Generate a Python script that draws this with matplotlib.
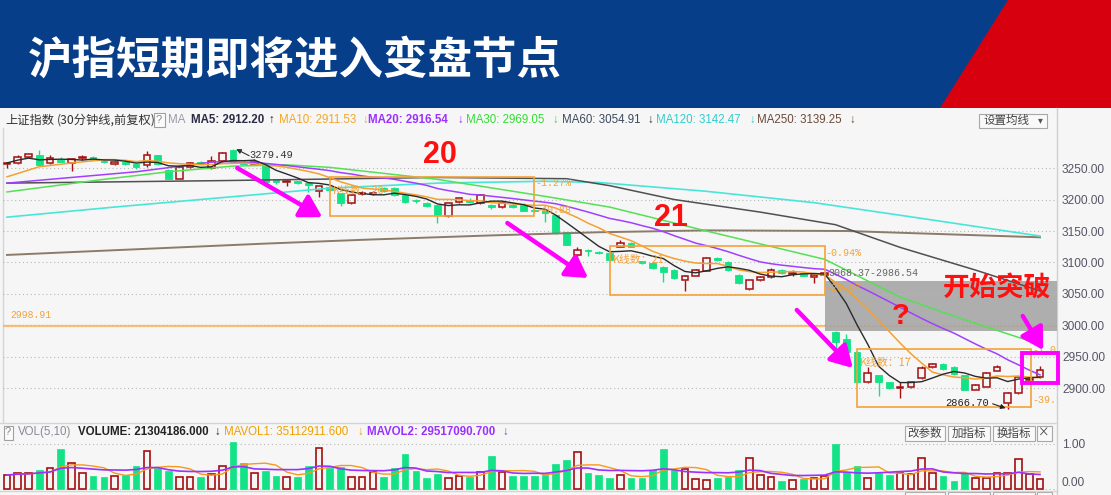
import numpy as np
import pandas as pd
import matplotlib
matplotlib.use("Agg")
import matplotlib.pyplot as plt
from matplotlib.patches import Rectangle, Polygon
from matplotlib.ticker import FormatStrFormatter

# ---------------- data ----------------
title = "沪指短期即将进入变盘节点"

opens = [3257, 3258, 3267, 3271, 3258, 3262, 3258, 3266, 3268, 3261,
         3256, 3259, 3256, 3255, 3270, 3247, 3233, 3252, 3260, 3250,
         3261, 3278, 3260, 3257, 3256, 3231, 3227, 3229, 3226, 3214,
         3220, 3210, 3194, 3208, 3209, 3218, 3218, 3207, 3200, 3194,
         3191, 3174, 3196, 3200, 3194, 3192, 3188, 3192, 3191, 3184,
         3182, 3175, 3148, 3112, 3120, 3117, 3115, 3125, 3131, 3102,
         3099, 3093, 3088, 3072, 3079, 3087, 3107, 3101, 3080, 3058,
         3072, 3077, 3088, 3082, 3083, 3077, 3080, 2990, 2979, 2958,
         2910, 2921, 2910, 2901, 2902, 2916, 2934, 2939, 2934, 2921,
         2898, 2903, 2928, 2877, 2893, 2913, 2918]
highs = [3260, 3270, 3273, 3279, 3270, 3268, 3266, 3271, 3269, 3262,
         3261, 3263, 3257, 3277, 3271, 3248, 3253, 3259, 3261, 3269,
         3275, 3279.49, 3262, 3265, 3258, 3233, 3231, 3230, 3228, 3222,
         3222, 3211, 3208, 3213, 3213, 3220, 3220, 3208, 3201, 3196,
         3192, 3195, 3203, 3202, 3208, 3193, 3196, 3196, 3194, 3185,
         3183, 3176, 3149, 3124, 3121, 3118, 3116, 3135, 3132, 3103,
         3100, 3094, 3089, 3080, 3089, 3108, 3109, 3102, 3081, 3073,
         3079, 3092, 3089, 3088, 3084, 3081, 3084, 2992, 2987, 2960,
         2934, 2922, 2911, 2910, 2911, 2935, 2941, 2941, 2935, 2922,
         2907, 2926, 2937, 2894, 2919, 2916, 2935]
lows = [3250, 3257, 3266, 3254, 3257, 3259, 3245, 3262, 3262, 3258,
        3254, 3255, 3249, 3251, 3255, 3232, 3232, 3250, 3255, 3249,
        3260, 3258, 3255, 3255, 3226, 3224, 3222, 3224, 3212, 3204,
        3213, 3190, 3193, 3207, 3207, 3212, 3205, 3194, 3195, 3188,
        3163, 3173, 3195, 3195, 3193, 3185, 3187, 3187, 3181, 3180,
        3165, 3146, 3127, 3108, 3110, 3114, 3103, 3124, 3124, 3098,
        3090, 3069, 3074, 3055, 3078, 3086, 3103, 3087, 3066, 3057,
        3071, 3076, 3082, 3078, 3078, 3068, 3079, 2958, 2957, 2908,
        2909, 2888, 2899, 2885, 2901, 2915, 2933, 2930, 2922, 2897,
        2897, 2902, 2927, 2866.70, 2892, 2912, 2917]
closes = [3258, 3267, 3272, 3255, 3266, 3260, 3265, 3267, 3263, 3259,
          3259, 3256, 3252, 3271, 3256, 3233, 3252, 3258, 3256, 3261,
          3274, 3260, 3257, 3260, 3227, 3228, 3230, 3226, 3223, 3221,
          3215, 3194, 3207, 3211, 3211, 3214, 3207, 3196, 3197, 3190,
          3175, 3194, 3202, 3196, 3207, 3188, 3194, 3188, 3182, 3181,
          3178, 3147, 3128, 3120, 3118, 3115, 3104, 3131, 3125, 3099,
          3091, 3085, 3075, 3079, 3088, 3107, 3104, 3088, 3067, 3072,
          3077, 3088, 3083, 3083, 3079, 3080, 3083, 2974, 2958, 2910,
          2925, 2910, 2900, 2902, 2910, 2932, 2939, 2931, 2923, 2898,
          2905, 2925, 2934, 2893, 2918, 2915, 2930]
# volume in units of 1e8
volumes = [0.31, 0.35, 0.35, 0.42, 0.46, 0.88, 0.57, 0.35, 0.29, 0.27,
           0.29, 0.31, 0.50, 0.85, 0.46, 0.39, 0.27, 0.27, 0.27, 0.33,
           0.52, 1.04, 0.57, 0.35, 0.39, 0.30, 0.27, 0.27, 0.50, 0.90,
           0.46, 0.48, 0.27, 0.27, 0.37, 0.27, 0.47, 0.77, 0.39, 0.25,
           0.34, 0.25, 0.30, 0.27, 0.37, 0.73, 0.37, 0.29, 0.29, 0.29,
           0.31, 0.55, 0.64, 0.83, 0.35, 0.31, 0.25, 0.31, 0.25, 0.25,
           0.42, 0.88, 0.42, 0.44, 0.22, 0.20, 0.25, 0.27, 0.42, 0.68,
           0.31, 0.27, 0.18, 0.20, 0.22, 0.24, 0.30, 0.99, 0.37, 0.50,
           0.25, 0.35, 0.31, 0.35, 0.33, 0.68, 0.35, 0.29, 0.18, 0.35,
           0.25, 0.25, 0.35, 0.35, 0.66, 0.33, 0.213]

# start of the short MAs (before a full window is available)
ma10_head_idx = [0, 3, 6]
ma10_head_val = [3236, 3252, 3258]
ma20_head_idx = [0, 6, 12]
ma20_head_val = [3226, 3235, 3244]

# long MAs: (bar index, value)
ma30_idx = [0, 9, 15, 21, 26, 30, 40, 50, 56, 65, 76, 83, 89, 96]
ma30_val = [3212, 3232, 3244, 3253, 3255, 3251, 3232, 3205, 3188, 3150, 3105, 3045, 3009, 2970]
ma60_idx = [0, 20, 40, 52, 56, 62, 70, 77, 83, 90, 96]
ma60_val = [3226, 3230, 3235, 3233, 3222, 3200, 3180, 3160, 3124, 3088, 3055]
ma120_idx = [0, 10, 20, 30, 40, 50, 55, 65, 75, 85, 96]
ma120_val = [3172, 3188, 3203, 3218, 3226, 3229, 3227, 3213, 3195, 3170, 3142]
ma250_idx = [0, 8, 16, 24, 33, 45, 55, 65, 78, 96]
ma250_val = [3112, 3118, 3124, 3130, 3136, 3143, 3148, 3151, 3150, 3140]

price_ticks = [2900, 2950, 3000, 3050, 3100, 3150, 3200, 3250]
vol_ticks = [0.0, 1.0]
ref_level = 2998.91

# counting boxes
box_counts = [20, 21, 17]
box_x0 = [30, 56, 79]
box_x1 = [49, 76, 95.2]
box_lo = [3173.8, 3048.4, 2870.6]
box_hi = [3235.7, 3126.2, 2962.7]
box_pct = ["-1.27%", "-0.94%", "-1.0"]
box_pct_at = [3226.0, 3115.0, 2961.0]
box_diff = ["-40.88", "-29.07", "-39.1"]
box_diff_at = [3183.3, 3059.5, 2881.7]

legend_items = [
    (168, "MA", "#9a9aa8", "normal"),
    (191, "MA5: 2912.20", "#2b2b45", "bold"),
    (268, "↑", "#222222", "normal"),
    (279, "MA10: 2911.53", "#f5a623", "normal"),
    (362, "↓", "#f5a623", "normal"),
    (368, "MA20: 2916.54", "#9b30ff", "bold"),
    (457, "↓", "#9b30ff", "normal"),
    (466, "MA30: 2969.05", "#33dd33", "normal"),
    (552, "↓", "#33dd33", "normal"),
    (562, "MA60: 3054.91", "#3d4a5c", "normal"),
    (647, "↓", "#333333", "normal"),
    (656, "MA120: 3142.47", "#33cccc", "normal"),
    (749, "↓", "#33cccc", "normal"),
    (757, "MA250: 3139.25", "#6b4a3a", "normal"),
    (849, "↓", "#6b4a3a", "normal"),
]
vol_legend = [
    (18, "VOL(5,10)", "#8a8a96", "normal"),
    (78, "VOLUME: 21304186.000", "#222222", "bold"),
    (214, "↓", "#222222", "normal"),
    (224, "MAVOL1: 35112911.600", "#f0a000", "normal"),
    (357, "↓", "#f0a000", "normal"),
    (367, "MAVOL2: 29517090.700", "#9b30ff", "bold"),
    (502, "↓", "#9b30ff", "normal"),
]

# ---------------- style ----------------
LAT = ["Liberation Sans", "Noto Sans CJK SC", "DejaVu Sans"]
CJK = ["Noto Sans CJK SC", "DejaVu Sans"]
MONO = ["Liberation Mono", "DejaVu Sans Mono"]
plt.rcParams["font.family"] = LAT

W, H = 1111, 495
BG = "#f6f6f6"
RED = "#a50f0f"
GREEN = "#12e387"
ORANGE = "#f3a23a"
MAG = "#ff00ff"

fig = plt.figure(figsize=(W / 100, H / 100), dpi=100)
fig.patch.set_facecolor(BG)

# background / header layer in pixel coordinates
bg = fig.add_axes([0, 0, 1, 1], zorder=0)
bg.set_xlim(0, W)
bg.set_ylim(H, 0)
bg.axis("off")
bg.add_patch(Rectangle((0, 0), W, 108, facecolor="#073e8a", edgecolor="none"))
bg.add_patch(Polygon([[1008, 0], [W, 0], [W, 108], [940, 108]], closed=True,
                     facecolor="#d7000f", edgecolor="none"))
bg.text(28, 61, title, color="white", fontsize=32, fontweight="bold", family=CJK,
        ha="left", va="center")

# frame lines
bg.plot([1057, 1057], [108, 495], color="#cfcfcf", lw=1)
bg.plot([3, 3], [128, 422], color="#d4d4d4", lw=1)
bg.plot([0, 1057], [422.5, 422.5], color="#d4d4d4", lw=1)
bg.plot([0, 1057], [490.5, 490.5], color="#d4d4d4", lw=1)

# legend row
ly = 120
bg.text(5, ly, "上证指数", color="#333333", fontsize=8.8, family=CJK, ha="left", va="center")
bg.text(57, ly, "(30分钟线,前复权)", color="#333333", fontsize=8.8, family=CJK, ha="left", va="center")
bg.add_patch(Rectangle((153.5, 112.5), 11, 14, facecolor="#fbfbfb", edgecolor="#a0a0a0", lw=0.8))
bg.text(159, ly, "?", color="#888888", fontsize=8, ha="center", va="center")
for x0, s, col, wt in legend_items:
    bg.text(x0, ly, s, color=col, fontsize=8.3, fontweight=wt, ha="left", va="center")
bg.add_patch(Rectangle((978.5, 113.5), 68, 14, facecolor="#f9f9f9", edgecolor="#a8a8a8", lw=0.8))
bg.text(984, ly, "设置均线", color="#444444", fontsize=8.3, family=CJK, ha="left", va="center")
bg.text(1040, ly, "▾", color="#555555", fontsize=7, family=["DejaVu Sans"], ha="center", va="center")

# volume legend row
vy = 432
bg.add_patch(Rectangle((3.5, 425.5), 9, 14, facecolor="#fbfbfb", edgecolor="#a0a0a0", lw=0.8))
bg.text(8, vy, "?", color="#888888", fontsize=8, ha="center", va="center")
for x0, s, col, wt in vol_legend:
    bg.text(x0, vy, s, color=col, fontsize=8.3, fontweight=wt, ha="left", va="center")
for bx, bw, s in [(904, 40, "改参数"), (947, 42, "加指标"), (992, 42, "换指标"), (1036, 15, "×")]:
    bg.add_patch(Rectangle((bx + 0.5, 425.5), bw, 15, facecolor="#f9f9f9", edgecolor="#a8a8a8", lw=0.8))
    bg.text(bx + bw / 2 + 0.5, 433, s, color="#444444", fontsize=8.3, family=CJK, ha="center", va="center")
    bg.add_patch(Rectangle((bx + 0.5, 491.5), bw, 12, facecolor="#f9f9f9", edgecolor="#a8a8a8", lw=0.8))

# ---------------- main price axes ----------------
n = len(closes)
x = np.arange(n)
o = np.array(opens, float)
h = np.array(highs, float)
l = np.array(lows, float)
c = np.array(closes, float)
v = np.array(volumes, float)
up = c >= o

X0, X1 = -0.372, 97.58
ax = fig.add_axes([3 / W, 1 - 421 / H, 1054 / W, 293 / H], zorder=2)
ax.set_facecolor("none")
ax.set_xlim(X0, X1)
ax.set_ylim(2848.4, 3313.5)
for sp in ax.spines.values():
    sp.set_visible(False)
ax.set_xticks([])
ax.yaxis.tick_right()
ax.set_yticks(price_ticks)
ax.yaxis.set_major_formatter(FormatStrFormatter("%.2f"))
ax.tick_params(axis="y", length=0, pad=3.6, labelsize=8.6, labelcolor="#555566")
ax.grid(True, axis="y", color="#b8b8b8", linestyle=(0, (1, 2.5)), lw=0.8, zorder=0)

# reference level and shaded zone
ax.axhline(ref_level, color="#f7c07a", lw=1.6, zorder=1)
ax.text(0.28, ref_level + 18, f"{ref_level:.2f}", color=ORANGE, fontsize=7, family=MONO,
        ha="left", va="center")
ax.add_patch(Rectangle((76.0, 2991.3), X1 - 76.0, 3070.6 - 2991.3, facecolor="#a4a4a4",
                       edgecolor="none", alpha=0.88, zorder=1.5))

# candles
blo = np.minimum(o, c)
bhi = np.maximum(o, c)
bh = np.maximum(bhi - blo, 0.7)
ax.vlines(x[up], bhi[up], h[up], color=RED, lw=1, zorder=3)
ax.vlines(x[up], l[up], blo[up], color=RED, lw=1, zorder=3)
ax.vlines(x[~up], l[~up], h[~up], color=GREEN, lw=1, zorder=3)
ax.bar(x[up], bh[up], bottom=blo[up], width=0.62, facecolor="none", edgecolor=RED, lw=1.1, zorder=3)
ax.bar(x[~up], bh[~up], bottom=blo[~up], width=0.62, facecolor=GREEN, edgecolor=GREEN, lw=0.6, zorder=3)

# moving averages
cs = pd.Series(c)
ma5 = cs.rolling(5, min_periods=1).mean().values
ma10 = cs.rolling(10).mean().values
ma20 = cs.rolling(20).mean().values
ax.plot(ma250_idx, ma250_val, color="#8c7b6b", lw=1.4, zorder=4)
ax.plot(ma120_idx, ma120_val, color="#48e6d8", lw=1.2, zorder=4)
ax.plot(ma60_idx, ma60_val, color="#505050", lw=1.1, zorder=4)
ax.plot(ma30_idx, ma30_val, color="#55e055", lw=1.1, zorder=4)
ax.plot(list(ma20_head_idx) + list(x[19:]), list(ma20_head_val) + list(ma20[19:]),
        color="#a040ff", lw=1.1, zorder=4)
ax.plot(list(ma10_head_idx) + list(x[9:]), list(ma10_head_val) + list(ma10[9:]),
        color="#f5a030", lw=1.1, zorder=4)
ax.plot(x, ma5, color="#2a2a2a", lw=1.0, zorder=4)

# counting boxes
for k in range(len(box_counts)):
    ax.add_patch(Rectangle((box_x0[k], box_lo[k]), box_x1[k] - box_x0[k], box_hi[k] - box_lo[k],
                           fill=False, edgecolor=ORANGE, lw=1.2, zorder=5))
    ax.text(box_x0[k] + 0.3, box_hi[k] - 22, f"K线数：{box_counts[k]}", color=ORANGE,
            fontsize=7.8, family=CJK, ha="left", va="center", zorder=6)
    ax.text(box_x1[k] + 0.1, box_pct_at[k], box_pct[k], color=ORANGE, fontsize=7.2,
            family=MONO, ha="left", va="center", zorder=6, clip_on=True)
    ax.text(box_x1[k] + 0.1, box_diff_at[k], box_diff[k], color=ORANGE, fontsize=7.2,
            family=MONO, ha="left", va="center", zorder=6, clip_on=True)
ax.text(76.3, 3083.3, "3068.37-2986.54", color="#666666", fontsize=7.2, family=MONO,
        ha="left", va="center", zorder=6)

# extreme labels
imax = int(np.argmax(h))
imin = int(np.argmin(l))
ax.text(imax + 1.55, h[imax] - 9, f"{h[imax]:.2f}", color="#333333", fontsize=7.5,
        family=MONO, ha="left", va="center", zorder=6)
ax.annotate("", xy=(imax + 0.3, h[imax] + 0.5), xytext=(imax + 1.5, h[imax] - 10),
            arrowprops=dict(arrowstyle="-|>", color="#333333", lw=0.8, mutation_scale=7,
                            shrinkA=0, shrinkB=0), zorder=6)
ax.text(imin - 5.8, l[imin] + 10, f"{l[imin]:.2f}", color="#222222", fontsize=7.5,
        family=MONO, ha="left", va="center", zorder=6)
ax.annotate("", xy=(imin - 0.2, l[imin] + 2), xytext=(imin - 1.4, l[imin] + 9),
            arrowprops=dict(arrowstyle="-|>", color="#222222", lw=0.8, mutation_scale=7,
                            shrinkA=0, shrinkB=0), zorder=6)

# big annotations
ax.text(40.24, 3270.6, "20", color="#ff1010", fontsize=22, fontweight="bold",
        family=["Liberation Sans"], ha="center", va="center", zorder=7)
ax.text(61.7, 3171.4, "21", color="#ff1010", fontsize=22, fontweight="bold",
        family=["Liberation Sans"], ha="center", va="center", zorder=7)
ax.text(83.0, 3015, "?", color="#ff1010", fontsize=21, fontweight="bold",
        family=["Liberation Sans"], ha="center", va="center", zorder=7)
ax.text(92.0, 3059.5, "开始突破", color="#ff1010", fontsize=19.5, fontweight="bold",
        family=CJK, ha="center", va="center", zorder=7)

arrows = [((21.4, 3250), (29.3, 3172)),
          ((46.5, 3162.7), (54.0, 3075.4)),
          ((73.4, 3024.6), (78.6, 2932.5)),
          ((94.4, 3015.0), (96.3, 2961.0))]
for (sx, sy), (tx, ty) in arrows:
    ax.annotate("", xy=(tx, ty), xytext=(sx, sy),
                arrowprops=dict(arrowstyle="-|>,head_length=0.65,head_width=0.38", color=MAG,
                                lw=3.2, mutation_scale=20, shrinkA=0, shrinkB=0), zorder=7)
ax.add_patch(Rectangle((94.3, 2908.7), 97.65 - 94.3, 2956.0 - 2908.7, fill=False,
                       edgecolor=MAG, lw=2.8, zorder=7, clip_on=False))

# ---------------- volume axes ----------------
vax = fig.add_axes([3 / W, 1 - 490 / H, 1054 / W, 66 / H], zorder=2)
vax.set_facecolor("none")
vax.set_xlim(X0, X1)
vax.set_ylim(-0.022, 1.444)
for sp in vax.spines.values():
    sp.set_visible(False)
vax.set_xticks([])
vax.yaxis.tick_right()
ticks = vax.set_yticks(vol_ticks, labels=[f"{t:.2f}" for t in vol_ticks])
ticks[0].label2.set_verticalalignment("bottom")
vax.tick_params(axis="y", length=0, pad=3.6, labelsize=8.6, labelcolor="#555566")
vax.grid(True, axis="y", color="#b8b8b8", linestyle=(0, (1, 2.5)), lw=0.8, zorder=0)

vax.bar(x[up], v[up], width=0.62, facecolor="none", edgecolor=RED, lw=1.2, zorder=3)
vax.bar(x[~up], v[~up], width=0.62, facecolor=GREEN, edgecolor=GREEN, lw=0.5, zorder=3)
vs = pd.Series(v)
vax.plot(x, vs.rolling(5, min_periods=1).mean(), color="#f59a1b", lw=1.0, zorder=4)
vax.plot(x, vs.rolling(10, min_periods=1).mean(), color="#9b30ff", lw=1.2, zorder=4)

fig.savefig("out.png", dpi=100, facecolor=fig.get_facecolor())
